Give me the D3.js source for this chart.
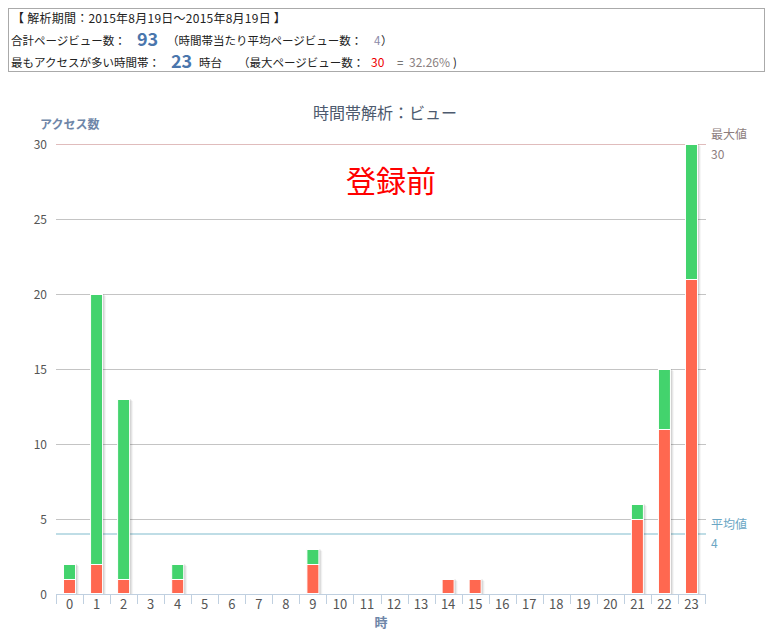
<!DOCTYPE html>
<html><head><meta charset="utf-8">
<script src="https://cdn.jsdelivr.net/npm/d3@7"></script>
<style>
body{margin:0;background:#fff;}
svg text{font-family:"Noto Sans CJK JP","Noto Sans",sans-serif;}
</style></head>
<body><svg id="c" width="776" height="644"></svg>
<script>
const hours = d3.range(24).map(String);
const registered = [1,2,1,0,1,0,0,0,0,2,0,0,0,0,1,1,0,0,0,0,0,5,11,21];
const others     = [1,18,12,0,1,0,0,0,0,1,0,0,0,0,0,0,0,0,0,0,0,1,4,9];
const yTicks = [0,5,10,15,20,25,30];
const maxValue = 30, avgValue = 4;

(function(){
const svg = d3.select("#c");
const pL=56, pR=705, pT=144, pB=594;
const x = d3.scaleBand().domain(hours).range([pL,pR]).padding(0);
const y = d3.scaleLinear().domain([0,30]).range([pB,pT]);

// info box
svg.append("rect").attr("x",8.5).attr("y",8.5).attr("width",756).attr("height",63)
  .attr("fill","#fff").attr("stroke","#aaa");
const info = svg.append("g").attr("font-size",11.5).attr("fill","#222");
info.append("text").attr("x",12).attr("y",23).attr("font-size",12).attr("letter-spacing",0.25).text("【 解析期間：2015年8月19日～2015年8月19日 】");
info.append("text").attr("x",11).attr("y",45).text("合計ページビュー数：");
info.append("text").attr("x",137).attr("y",46).attr("font-size",18).attr("font-weight","bold").attr("fill","#4a76ac").text("93");
info.append("text").attr("x",167).attr("y",45).text("（時間帯当たり平均ページビュー数：");
info.append("text").attr("x",374).attr("y",45).attr("fill","#8a8aa8").text("4");
info.append("text").attr("x",381).attr("y",45).text("）");
info.append("text").attr("x",11).attr("y",67).text("最もアクセスが多い時間帯：");
info.append("text").attr("x",171).attr("y",68).attr("font-size",18).attr("font-weight","bold").attr("fill","#4a76ac").text("23");
info.append("text").attr("x",199).attr("y",67).text("時台");
info.append("text").attr("x",238).attr("y",67).text("（最大ページビュー数：");
info.append("text").attr("x",371).attr("y",67).attr("font-size",12).attr("fill","#e00").text("30");
info.append("text").attr("x",397).attr("y",67).attr("fill","#555").text("=");
info.append("text").attr("x",409).attr("y",67).attr("font-size",12).attr("fill","#8a7f7f").text("32.26%");
info.append("text").attr("x",453).attr("y",67).text(")");

// title
svg.append("text").attr("x",385).attr("y",119).attr("text-anchor","middle")
  .attr("font-size",16).attr("fill","#4d5a6e").text("時間帯解析：ビュー");
svg.append("text").attr("x",40).attr("y",129).attr("font-size",12).attr("font-weight","bold")
  .attr("fill","#6e86a8").text("アクセス数");

// grid
svg.append("g").selectAll("line").data(yTicks.filter(d=>d>0)).join("line")
  .attr("x1",pL).attr("x2",pR+1).attr("y1",d=>Math.round(y(d))+0.5).attr("y2",d=>Math.round(y(d))+0.5)
  .attr("stroke","#c4c4c4");
svg.append("g").selectAll("text").data(yTicks).join("text")
  .attr("x",47).attr("y",d=>y(d)+4.5).attr("text-anchor","end").attr("font-size",12)
  .attr("fill","#555").text(d=>d);

// max line
svg.append("line").attr("x1",pL).attr("x2",pR+1).attr("y1",Math.round(y(maxValue))+0.5).attr("y2",Math.round(y(maxValue))+0.5)
  .attr("stroke","#e0bcbc");
// avg line
svg.append("line").attr("x1",pL).attr("x2",pR+1).attr("y1",y(avgValue)).attr("y2",y(avgValue))
  .attr("stroke","#bfdde6").attr("stroke-width",2);

svg.append("text").attr("x",711).attr("y",139).attr("font-size",12).attr("fill","#8d7d7d").text("最大値");
svg.append("text").attr("x",711).attr("y",159).attr("font-size",12).attr("fill","#8d7d7d").text(maxValue);
svg.append("text").attr("x",711).attr("y",529).attr("font-size",12).attr("fill","#6aa6c4").text("平均値");
svg.append("text").attr("x",711).attr("y",548).attr("font-size",12).attr("fill","#6aa6c4").text(avgValue);

// bars
const bw = 13;
const data = hours.map((h,i)=>({h, r:registered[i], o:others[i]}));
const bars = svg.append("g");
const bx = d => x(d.h) + x.bandwidth()/2 - bw/2;
[1,2,3].forEach((k,j)=>{
  bars.selectAll(null).data(data.filter(d=>d.r+d.o>0)).join("rect")
    .attr("x",d=>bx(d)+k).attr("y",d=>y(d.r+d.o)+k-1).attr("width",bw).attr("height",d=>pB-y(d.r+d.o)-k+1)
    .attr("fill","#000").attr("opacity",[0.09,0.06,0.04][j]);
});
bars.selectAll(null).data(data.filter(d=>d.o>0)).join("rect")
  .attr("x",d=>bx(d)+0.5).attr("y",d=>y(d.r+d.o)+0.5).attr("width",bw-1).attr("height",d=>y(d.r)-y(d.r+d.o))
  .attr("fill","#43d36d").attr("stroke","#fff").attr("stroke-width",1);
bars.selectAll(null).data(data.filter(d=>d.r>0)).join("rect")
  .attr("x",d=>bx(d)+0.5).attr("y",d=>y(d.r)+0.5).attr("width",bw-1).attr("height",d=>pB-y(d.r)-1)
  .attr("fill","#ff6850").attr("stroke","#fff").attr("stroke-width",1);

// x axis
svg.append("line").attr("x1",pL).attr("x2",pR+1).attr("y1",pB+0.5).attr("y2",pB+0.5).attr("stroke","#c0d0e0");
svg.append("g").selectAll("line").data(d3.range(25)).join("line")
  .attr("x1",i=>Math.round(pL+i*x.bandwidth())+0.5).attr("x2",i=>Math.round(pL+i*x.bandwidth())+0.5)
  .attr("y1",pB).attr("y2",pB+10).attr("stroke","#c0d0e0");
svg.append("g").selectAll("text").data(hours).join("text")
  .attr("x",d=>x(d)+x.bandwidth()/2).attr("y",609).attr("text-anchor","middle").attr("font-size",13)
  .attr("fill","#555").text(d=>d);
svg.append("text").attr("x",381).attr("y",627).attr("text-anchor","middle").attr("font-size",13).attr("font-weight","bold")
  .attr("fill","#6e86a8").text("時");

// annotation
svg.append("text").attr("x",391).attr("y",192).attr("text-anchor","middle").attr("font-size",30)
  .attr("fill","#f00").text("登録前");
})();
</script></body></html>
